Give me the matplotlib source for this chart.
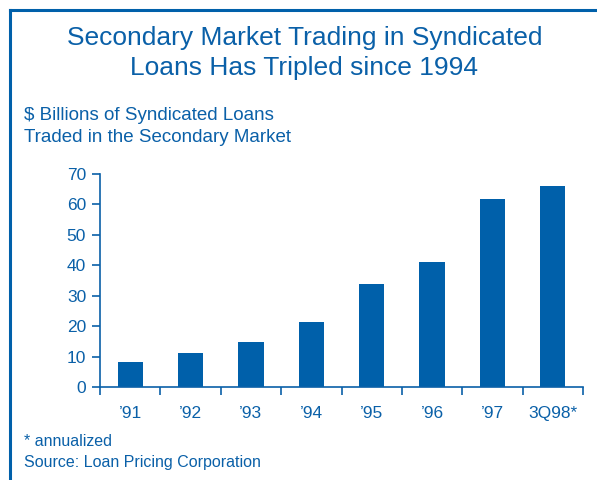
import matplotlib.pyplot as plt
from matplotlib.lines import Line2D
import numpy as np

periodos = ["\u201991", "\u201992", "\u201993", "\u201994", "\u201995", "\u201996", "\u201997", "3Q98*"]
volumen = [8.2, 11.2, 14.8, 21.4, 33.9, 41.1, 61.8, 66.1]
ticks_y = [0, 10, 20, 30, 40, 50, 60, 70]

azul = '#0A60A8'
plt.rcParams['font.family'] = ['Liberation Sans', 'DejaVu Sans']

fig = plt.figure(figsize=(5.97, 4.8), dpi=100)
ax = fig.add_axes([100/597, 93/480, 483/597, 213/480])

x = np.arange(len(periodos))
ax.bar(x, volumen, width=0.42, color='#0060AA')

ax.set_xlim(-0.5, len(periodos) - 0.5)
ax.set_ylim(0, 70)
ax.set_yticks(ticks_y)
ax.set_xticks(x)
ax.set_xticklabels(periodos)
ax.set_xticks(np.arange(len(periodos) + 1) - 0.5, minor=True)
ax.tick_params(axis='x', which='major', length=0, pad=14, labelsize=12.5, labelcolor=azul)
ax.tick_params(axis='x', which='minor', length=6, width=1.2, color=azul, direction='out')
ax.tick_params(axis='y', length=6, width=1.2, color=azul, labelsize=12.5, labelcolor=azul, pad=4)

for lado in ['top', 'right']:
    ax.spines[lado].set_visible(False)
for lado in ['left', 'bottom']:
    ax.spines[lado].set_color(azul)
    ax.spines[lado].set_linewidth(1.2)

fig.text(0.51, 1 - 38/480, "Secondary Market Trading in Syndicated", ha='center', va='center', fontsize=19, color=azul)
fig.text(0.51, 1 - 68/480, "Loans Has Tripled since 1994", ha='center', va='center', fontsize=19, color=azul)
fig.text(24/597, 1 - 115/480, "$ Billions of Syndicated Loans", ha='left', va='center', fontsize=13.5, color=azul)
fig.text(24/597, 1 - 137/480, "Traded in the Secondary Market", ha='left', va='center', fontsize=13.5, color=azul)
fig.text(24/597, 1 - 441/480, "* annualized", ha='left', va='center', fontsize=11.5, color=azul)
fig.text(24/597, 1 - 462/480, "Source: Loan Pricing Corporation", ha='left', va='center', fontsize=11.5, color=azul)

# marco parcial
fig.add_artist(Line2D([9.5/597, 1], [1 - 9.5/480] * 2, transform=fig.transFigure, color='#0060AA', linewidth=2.2))
fig.add_artist(Line2D([9.5/597] * 2, [0, 1 - 9.5/480], transform=fig.transFigure, color='#0060AA', linewidth=2.2))

fig.savefig('out.png', dpi=100)
